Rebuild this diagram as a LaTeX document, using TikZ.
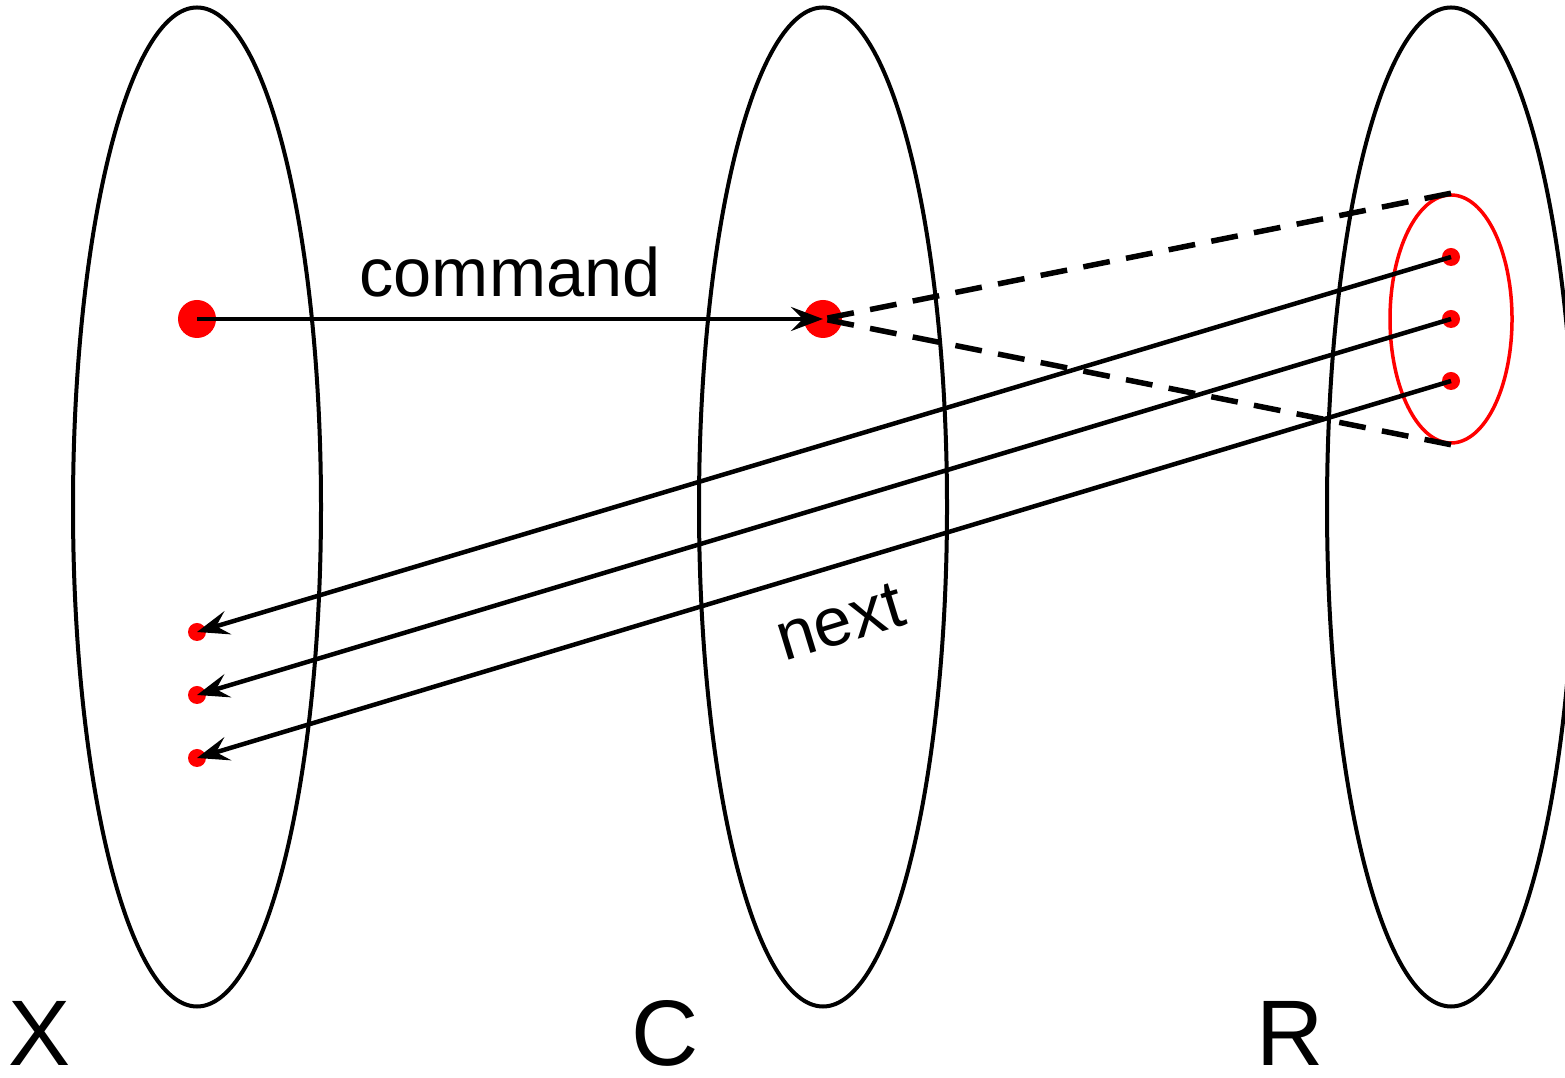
\documentclass[tikz,border=0pt]{standalone}
\usepackage{fontspec}
\setmainfont{Liberation Sans}
\usetikzlibrary{shapes.geometric,arrows.meta}

\begin{document}
\begin{tikzpicture}[
  >={Stealth[length=0.32cm,width=0.24cm,inset=0.12cm]},
  line width=0.045cm,
  set/.style={draw,ellipse,line width=0.04cm,minimum width=2.48cm,minimum height=9.99cm,inner sep=0pt},
  subset/.style={draw=red,ellipse,line width=0.035cm,minimum width=1.22cm,minimum height=2.48cm,inner sep=0pt},
  big dot/.style={circle,fill=red,minimum size=0.38cm,inner sep=0pt},
  small dot/.style={circle,fill=red,minimum size=0.18cm,inner sep=0pt},
  set label/.style={font=\fontsize{26.5}{30}\selectfont},
  map label/.style={font=\fontsize{19.5}{23}\selectfont},
  result bound/.style={line width=0.055cm,dash pattern=on 0.27cm off 0.165cm}
]
  \useasboundingbox (0,0) rectangle (15.65,10.77);

  % The three sets X, C and R.
  \node[set] (setX) at (1.97,5.70) {};
  \node[set] (setC) at (8.23,5.70) {};
  \node[set] (setR) at (14.51,5.70) {};
  \node[set label] (labX) at (0.40,0.44) {X};
  \node[set label] (labC) at (6.65,0.44) {C};
  \node[set label] (labR) at (12.90,0.44) {R};

  % A state and its command.
  \node[big dot] (x0) at (1.97,7.58) {};
  \node[big dot] (c0) at (8.23,7.58) {};
  \draw[->] (x0.center) -- (c0.center);
  \node[map label] (cmd) at (5.10,8.05) {command};

  % Possible results of the command, gathered in a red subset of R.
  \node[subset] (res) at (14.51,7.58) {};
  \node[small dot] (r1) at (14.51,8.20) {};
  \node[small dot] (r2) at (14.51,7.58) {};
  \node[small dot] (r3) at (14.51,6.96) {};
  \draw[result bound] (res.north) -- (c0.center);
  \draw[result bound] (res.south) -- (c0.center);

  % Each result leads to a next state in X.
  \node[small dot] (x1) at (1.97,4.45) {};
  \node[small dot] (x2) at (1.97,3.82) {};
  \node[small dot] (x3) at (1.97,3.19) {};
  \draw[->] (r1.center) -- (x1.center);
  \draw[->] (r2.center) -- (x2.center);
  \draw[->] (r3.center) -- (x3.center);
  \node[map label,rotate=17] (nxt) at (8.40,4.55) {next};
\end{tikzpicture}
\end{document}
